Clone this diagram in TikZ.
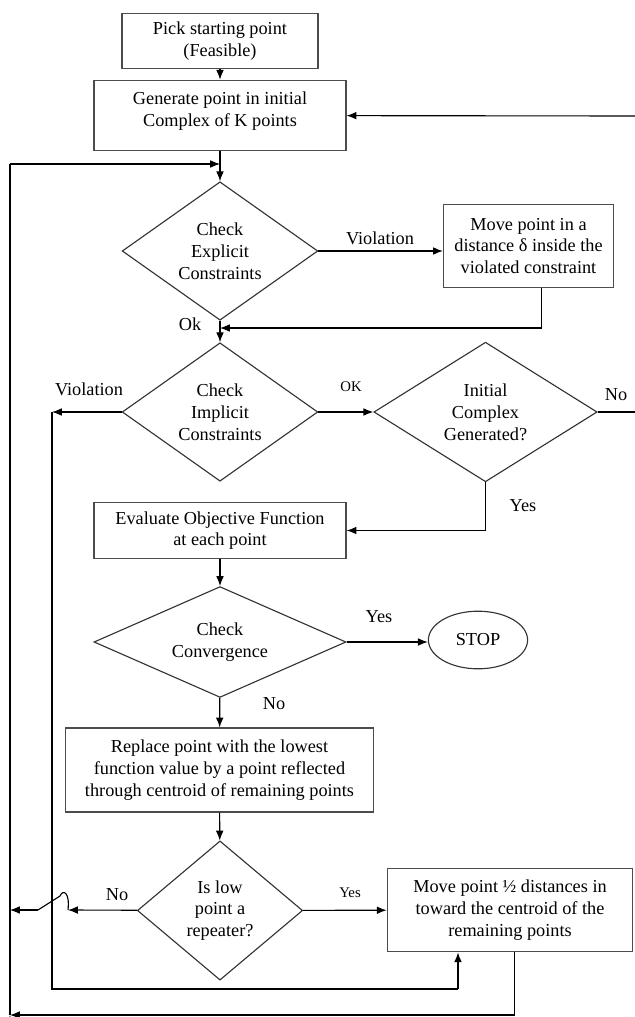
\documentclass[tikz,border=0pt]{standalone}
\usepackage{fontspec}
\setmainfont{Liberation Serif}
\usetikzlibrary{shapes.geometric, arrows.meta, positioning}
\tikzset{
->, % every connector gets a head
>={Latex[length=7pt,width=5.5pt]}, % filled heads as in the scan
every node/.style={font=\fontsize{13}{15.5}\selectfont, align=center},
block/.style={draw=black!70, rectangle, line width=0.8pt},
decision/.style={draw=black!80, diamond, aspect=1.4, inner sep=0pt, line width=0.8pt},
term/.style={draw=black!80, ellipse, inner sep=0pt, line width=0.8pt},
tag/.style={draw=none, inner sep=1pt},
smalltag/.style={tag, font=\fontsize{10.5}{12}\selectfont},
}

\begin{document}
\begin{tikzpicture}[x=0.025cm, y=-0.025cm, line width=0.8pt]
    \useasboundingbox (0,0) rectangle (634,1017);
    \node[block, minimum width=4.9cm, minimum height=1.39cm] at (220,41) (start) {Pick starting point\\(Feasible)};
    \node[block, minimum width=6.3cm, minimum height=1.76cm, text depth=9pt] at (220,115.5) (gen) {Generate point in initial\\Complex of K points};
    \node[decision, minimum width=4.89cm, minimum height=3.46cm] at (220,251) (chkexp) {Check\\Explicit\\Constraints};
    \node[block, minimum width=4.25cm, minimum height=2.09cm] at (528.5,246) (move) {Move point in a\\distance δ inside the\\violated constraint};
    \node[decision, minimum width=4.89cm, minimum height=3.46cm] at (220,412) (chkimp) {Check\\Implicit\\Constraints};
    \node[decision, minimum width=5.58cm, minimum height=3.49cm] at (485.5,412) (initcx) {Initial\\Complex\\Generated?};
    \node[block, minimum width=6.3cm, minimum height=1.39cm] at (220,530.5) (evalobj) {Evaluate Objective Function\\at each point};
    \node[decision, minimum width=6.3cm, minimum height=2.77cm] at (220,642) (chkconv) {Check\\Convergence};
    \node[term, minimum width=2.48cm, minimum height=1.44cm] at (478,640) (stop) {STOP};
    \node[block, minimum width=7.68cm, minimum height=2.1cm] at (219.5,770) (replace) {Replace point with the lowest\\function value by a point reflected\\through centroid of remaining points};
    \node[decision, minimum width=4.13cm, minimum height=3.48cm] at (220,910.5) (repeater) {Is low\\point a\\repeater?};
    \node[block, minimum width=6.14cm, minimum height=2.09cm] at (510,910) (half) {Move point ½ distances in\\toward the centroid of the\\remaining points};
    % edge labels
    \node[tag] at (380,238) (lviolexp) {Violation};
    \node[tag] at (190,324) (lok) {Ok};
    \node[tag] at (89,389) (lviolimp) {Violation};
    \node[smalltag] at (351,387) (lokimp) {OK};
    \node[tag] at (616,395) (lnoinit) {No};
    \node[tag] at (523,506) (lyesinit) {Yes};
    \node[tag] at (379,617) (lyesconv) {Yes};
    \node[tag] at (274,704) (lnoconv) {No};
    \node[tag] at (117,895) (lnorep) {No};
    \node[smalltag] at (350,893) (lyesrep) {Yes};
    % corner points of the loops
    \coordinate (jtop) at (220,164);
    \coordinate (ltop) at (10,164);
    \coordinate (lmid) at (10,910);
    \coordinate (lbot) at (10,1015);
    \coordinate (jok) at (220,328);
    \coordinate (viol) at (52,412);
    \coordinate (vbot) at (52,989);
    \coordinate (hbot) at (458,989);
    \coordinate (rno) at (640,412);
    \coordinate (rtop) at (640,116);
    \coordinate (hopR) at (68,910);
    \coordinate (hopL) at (38,910);
    \draw
    (start) edge (gen)
    (gen) edge (chkexp)
    (chkexp.east) edge (chkexp.east -| move.west)
    (chkexp) edge (chkimp)
    (chkimp) edge (viol)
    (chkimp) edge (initcx)
    (evalobj) edge (chkconv)
    (chkconv.east) edge (chkconv.east -| stop.west)
    (chkconv) edge (replace)
    (replace) edge (repeater)
    (repeater) edge (half)
    (repeater) edge (hopR)
    (hopL) edge (lmid)
    (ltop) edge (jtop)
    (rtop) edge (gen)
    (lbot) edge[-] (ltop)
    ;
    \draw (initcx) |- (evalobj);
    \draw ([xshift=0.335cm]move.south) |- (jok);
    \draw ([xshift=0.12cm]half.south) |- (lbot);
    \draw[-] (viol) -- (vbot) -- (hbot);
    \draw (hbot) -- (hbot |- half.south);
    \draw[-] (initcx.east) -- (rno) -- (rtop);
    \draw[-] (hopR) .. controls (70,892) and (63,889) .. (60,896) -- (hopL);
\end{tikzpicture}
\end{document}
